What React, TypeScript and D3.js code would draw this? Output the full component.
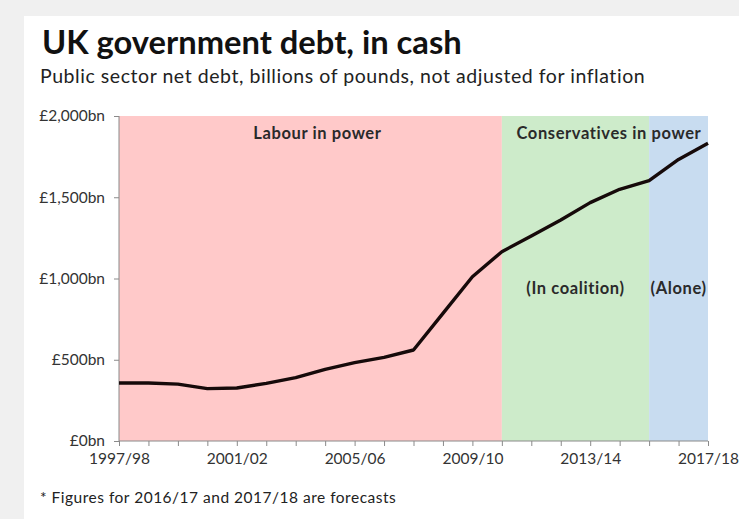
import * as d3 from "d3";
import { useRef, useEffect } from "react";

const years = [
  "1997/98", "1998/99", "1999/00", "2000/01", "2001/02", "2002/03", "2003/04",
  "2004/05", "2005/06", "2006/07", "2007/08", "2008/09", "2009/10", "2010/11",
  "2011/12", "2012/13", "2013/14", "2014/15", "2015/16", "2016/17", "2017/18"
];
const debt = [
  357, 357, 350, 322, 326, 355, 390, 441, 482, 515, 560, 785, 1011, 1165,
  1262, 1360, 1467, 1549, 1602, 1733, 1832
];
const yTicks = [0, 500, 1000, 1500, 2000];
const xLabelEvery = 4;

// periods, as start/end indexes into years
const periods = [
  { name: "Labour in power", from: 0, to: 13, fill: "#ffc9c9" },
  { name: "(In coalition)", from: 13, to: 18, fill: "#cdebca" },
  { name: "(Alone)", from: 18, to: 20, fill: "#c8dcf0" }
];

export default function App() {
  const svgRef = useRef<SVGSVGElement>(null);

  const width = 739;
  const height = 519;
  const marginLeft = 119;
  const marginRight = 31;
  const marginTop = 116;
  const marginBottom = 78;

  useEffect(() => {
    const svg = d3.select(svgRef.current);
    svg.selectAll("*").remove();

    const x = d3.scaleLinear().domain([0, years.length - 1]).range([marginLeft, width - marginRight]);
    const y = d3.scaleLinear().domain([0, 2000]).range([height - marginBottom, marginTop]);
    const font = "Lato, sans-serif";

    svg.append("rect").attr("width", width).attr("height", height).attr("fill", "#f0f0f0");
    svg.append("rect").attr("x", 24).attr("y", 16).attr("width", width - 24).attr("height", height - 16).attr("fill", "#fff");

    svg.append("text")
      .attr("x", 42).attr("y", 54)
      .attr("font-family", font).attr("font-size", 32.7).attr("font-weight", 700)
      .attr("fill", "#111")
      .text("UK government debt, in cash");

    svg.append("text")
      .attr("x", 40).attr("y", 83)
      .attr("font-family", font).attr("font-size", 19.5).attr("letter-spacing", 0.55)
      .attr("fill", "#222")
      .text("Public sector net debt, billions of pounds, not adjusted for inflation");

    svg.append("g").selectAll("rect")
      .data(periods)
      .join("rect")
      .attr("x", d => x(d.from))
      .attr("width", d => x(d.to) - x(d.from))
      .attr("y", y(2000))
      .attr("height", y(0) - y(2000))
      .attr("fill", d => d.fill);

    const labels = svg.append("g")
      .attr("font-family", font).attr("font-size", 16.5).attr("font-weight", 700)
      .attr("letter-spacing", 0.6)
      .attr("fill", "#2a2a2a").attr("text-anchor", "middle");
    labels.append("text").attr("x", (x(0) + x(13)) / 2 + 7).attr("y", 139).text(periods[0].name);
    labels.append("text").attr("x", (x(13) + x(20)) / 2 + 4).attr("y", 139).text("Conservatives in power");
    labels.append("text").attr("x", (x(13) + x(18)) / 2).attr("y", 294).text(periods[1].name);
    labels.append("text").attr("x", (x(18) + x(20)) / 2).attr("y", 294).text(periods[2].name);

    const yAxis = svg.append("g")
      .attr("transform", `translate(${marginLeft},0)`)
      .call(d3.axisLeft(y).tickValues(yTicks).tickSize(5).tickPadding(9)
        .tickFormat(d => `£${d3.format(",")(d as number)}bn`));
    yAxis.selectAll("text").attr("font-family", font).attr("font-size", 15.5).attr("fill", "#333");
    yAxis.selectAll("line, path").attr("stroke", "#8a8a8a");
    yAxis.select(".domain").attr("d", `M0,${y(2000)}V${y(0)}`);

    const xAxis = svg.append("g")
      .attr("transform", `translate(0,${height - marginBottom})`)
      .call(d3.axisBottom(x).tickValues(d3.range(years.length)).tickSize(5).tickPadding(7)
        .tickFormat(d => ((d as number) % xLabelEvery === 0 ? years[d as number] : "")));
    xAxis.selectAll("text").attr("font-family", font).attr("font-size", 15.5).attr("fill", "#333");
    xAxis.selectAll("line, path").attr("stroke", "#8a8a8a");
    xAxis.select(".domain").attr("d", `M${x(0)},0H${x(years.length - 1)}`);

    const line = d3.line<number>().x((d, i) => x(i)).y(d => y(d));
    svg.append("path")
      .attr("d", line(debt))
      .attr("fill", "none")
      .attr("stroke", "#160a0a")
      .attr("stroke-width", 3.4)
      .attr("stroke-linejoin", "round");

    svg.append("text")
      .attr("x", 40).attr("y", 503)
      .attr("font-family", font).attr("font-size", 15.5).attr("letter-spacing", 0.5)
      .attr("fill", "#222")
      .text("* Figures for 2016/17 and 2017/18 are forecasts");
  }, []);

  return (
    <svg ref={svgRef} width={width} height={height}
      style={{ position: "absolute", left: 0, top: 0, display: "block" }} />
  );
}
